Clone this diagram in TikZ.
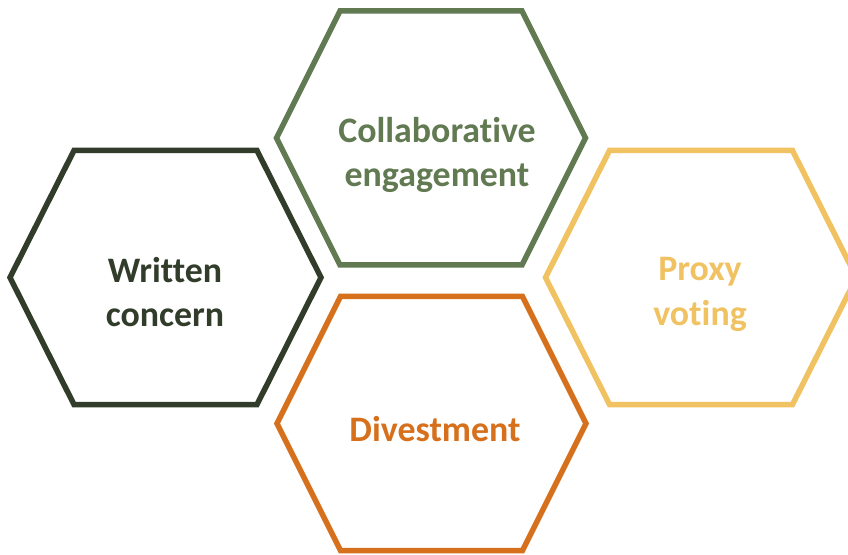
\documentclass[tikz,border=0pt]{standalone}
\usepackage{fontspec}
\setmainfont{Carlito}[Ligatures={NoCommon}]
\definecolor{cWritten}{HTML}{313D2A}
\definecolor{cCollab}{HTML}{627A52}
\definecolor{cProxy}{HTML}{F0C262}
\definecolor{cDivest}{HTML}{D6701C}
\tikzset{
  hexline/.style={line width=5.5bp, line join=miter},
  hexlabel/.style={align=center, font=\fontsize{36}{45}\selectfont\bfseries, inner sep=0pt}
}
\begin{document}
\begin{tikzpicture}[x=1bp,y=-1bp]
\useasboundingbox (0,0) rectangle (848,555);
\clip (0,0) rectangle (848,555);
\fill[white] (0,0) rectangle (848,555);
\coordinate (w) at (165.5,277.5);
\coordinate (c) at (431,138);
\coordinate (p) at (701,277.5);
\coordinate (d) at (431.5,423.5);
\draw[hexline, draw=cWritten, shift={(w)}] (-155.5,0) -- (-91.5,-127) -- (91.5,-127) -- (155.5,0) -- (91.5,127) -- (-91.5,127) -- cycle;
\draw[hexline, draw=cCollab, shift={(c)}] (-154.5,0) -- (-91,-127) -- (91,-127) -- (154.5,0) -- (91,127) -- (-91,127) -- cycle;
\draw[hexline, draw=cProxy, shift={(p)}] (-155.5,0) -- (-91.5,-127) -- (91.5,-127) -- (155.5,0) -- (91.5,127) -- (-91.5,127) -- cycle;
\draw[hexline, draw=cDivest, shift={(d)}] (-154.5,0) -- (-91,-127) -- (91,-127) -- (154.5,0) -- (91,127) -- (-91,127) -- cycle;
\node[hexlabel, text=cWritten] (tw) at (165,292) {Written\\concern};
\node[hexlabel, text=cCollab] (tc) at (437,155) {Collaborative\\engagement};
\node[hexlabel, text=cProxy] (tp) at (700,294) {Proxy\\voting};
\node[hexlabel, text=cDivest] (td) at (435,429) {Divestment};
\end{tikzpicture}
\end{document}
